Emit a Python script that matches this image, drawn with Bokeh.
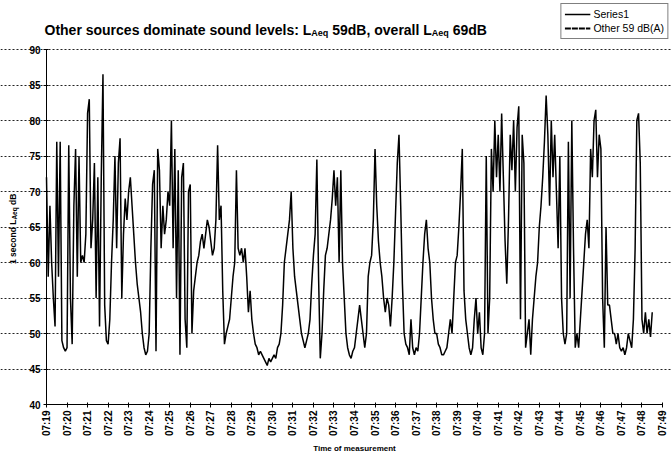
import math
from bokeh.plotting import figure
from bokeh.models import FixedTicker, Label, Legend, LegendItem, ColumnDataSource, LinearAxis
from bokeh.embed import file_html
from bokeh.resources import INLINE

# ---------------- data ----------------
tick_labels = ["07:19", "07:20", "07:21", "07:22", "07:23", "07:24", "07:25", "07:26",
               "07:27", "07:28", "07:29", "07:30", "07:31", "07:32", "07:33", "07:34",
               "07:35", "07:36", "07:37", "07:38", "07:39", "07:40", "07:41", "07:42",
               "07:43", "07:44", "07:45", "07:46", "07:47", "07:48", "07:49"]
y_ticks = [40, 45, 50, 55, 60, 65, 70, 75, 80, 85, 90]
sample_seconds = 5

series1 = [
    72, 58, 68, 60, 55, 51, 77, 58, 77, 49, 48, 47.5,
    48, 76.5, 55, 48.5, 68, 76, 58, 75, 60, 61, 60, 64,
    81, 83, 62, 66, 74, 55, 72, 51, 72, 86.5, 54, 49,
    48.5, 52, 60, 66, 75, 62, 74, 77.5, 55, 64, 69, 66,
    70, 72, 68, 64, 60, 57, 55, 53, 50, 48, 47, 47.5,
    50, 62, 71, 73, 47.5, 76, 73, 62, 68, 64, 66, 70,
    68, 80, 62, 76, 55, 73, 47, 72, 74, 52, 48, 70,
    71, 50, 56, 58, 60, 61, 63, 64, 62, 64, 66, 65,
    63, 61, 62, 66, 76.5, 66, 68, 56, 48.5, 50, 51, 52,
    55, 58, 60, 73, 62, 61, 62, 60, 62, 58, 53, 56,
    52, 50, 48.5, 48, 47, 47.5, 47, 46.5, 46, 45.5, 46.5, 46,
    46.5, 47, 46.5, 48, 48.5, 50, 54, 60, 62, 64, 66, 70,
    62, 58, 56, 54, 52, 50, 49, 48, 49, 50, 52, 57,
    61, 64, 74.5, 58, 46.5, 50, 56, 61, 62, 64, 66, 69,
    73, 68, 72, 60, 73, 60, 55, 50, 48, 47, 46.5, 47.5,
    48, 50, 52, 54, 52, 50, 48, 50, 58, 60, 61, 66,
    76, 68, 63, 60, 58, 55, 53, 55, 54, 51, 55, 60,
    67, 74, 78, 68, 57, 50, 48.5, 48, 47, 52, 48, 47,
    48, 47.5, 50, 55, 60, 64, 66, 62, 60, 55, 52, 50,
    50, 48.5, 48, 47, 47, 47.5, 48, 50, 52, 50, 55, 60,
    61, 65, 70, 76, 56, 52, 50, 48, 47, 48, 52, 55,
    50, 53, 48, 47, 50, 75, 50, 55, 76, 70, 80, 72,
    78, 70, 81, 72, 63, 57, 66, 78, 73, 80, 70, 79,
    82, 52, 78, 74, 48, 50, 52, 47, 52, 55, 58, 60,
    65, 68, 72, 77, 83.5, 78, 68, 80, 72, 78, 70, 62,
    75, 55, 50, 48.5, 50, 77, 55, 80, 62, 48, 50, 48,
    52, 56, 60, 64, 66, 62, 76, 72, 80, 81.5, 72, 78,
    76, 55, 48, 65, 54, 54, 52, 50, 50, 48.5, 50, 48,
    47.5, 48, 47, 48, 50, 49, 48, 52, 62, 80, 81, 74,
    52, 50, 53, 50, 52, 49.5, 53,
]
series1_label = "Series1"
other_label = "Other 59 dB(A)"
other_level = [59]   # single value: only its legend entry is visible in the chart

minutes = [i * sample_seconds / 60 for i in range(len(series1))]

# ---------------- layout geometry (pixels) ----------------
W_PX, H_PX = 671, 452
PLOT_L, PLOT_R, PLOT_T, PLOT_B = 46, 662, 49, 404
n_min = len(tick_labels) - 1
ppx = (PLOT_R - PLOT_L) / n_min                       # pixels per minute
ppy = (PLOT_B - PLOT_T) / (y_ticks[-1] - y_ticks[0])  # pixels per dB
x_range = (-PLOT_L / ppx, n_min + (W_PX - PLOT_R) / ppx)
y_range = (y_ticks[0] - (H_PX - PLOT_B) / ppy, y_ticks[-1] + PLOT_T / ppy)

FONT = "Liberation Sans"
p = figure(width=W_PX, height=H_PX, x_range=x_range, y_range=y_range,
           output_backend="svg", toolbar_location=None, x_axis_type=None, y_axis_type=None,
           min_border=0)
p.title.visible = False
p.outline_line_color = None
p.background_fill_color = "white"
p.border_fill_color = "white"

# dotted horizontal gridlines
p.hspan(y=y_ticks[1:], line_color="#222222", line_dash="2 2", line_width=1)

src = ColumnDataSource(dict(x=minutes, y=series1))
r1 = p.line("x", "y", source=src, line_color="black", line_width=1.5)
r2 = p.line(x=[0] * len(other_level), y=other_level, line_color="black", line_width=2.2,
            line_dash="6 1")

# axes (library axes pinned at the plot-area edges)
xax = LinearAxis(fixed_location=y_ticks[0], bounds=(0, n_min),
                 ticker=FixedTicker(ticks=list(range(len(tick_labels)))))
xax.major_label_overrides = {i: t for i, t in enumerate(tick_labels)}
xax.major_label_orientation = math.pi / 2
yax = LinearAxis(fixed_location=0, bounds=(y_ticks[0], y_ticks[-1]),
                 ticker=FixedTicker(ticks=y_ticks))
for ax in (xax, yax):
    ax.axis_line_color = "black"
    ax.axis_line_width = 1
    ax.major_tick_line_color = "black"
    ax.major_tick_in = 2
    ax.major_tick_out = 3
    ax.minor_tick_line_color = None
    ax.major_label_text_font = FONT
    ax.major_label_text_font_style = "bold"
    ax.major_label_text_font_size = "10px"
    ax.major_label_text_color = "black"
    ax.major_label_standoff = 3
p.add_layout(xax, "below")
p.add_layout(yax, "left")

# ---------------- text with subscripts ----------------
W = {' ': 278, ',': 278, ':': 333, '(': 333, ')': 333, 'A': 722, 'B': 722, 'L': 611, 'O': 778,
     'T': 611, 'a': 556, 'c': 556, 'd': 611, 'e': 556, 'f': 333, 'h': 611, 'i': 278, 'l': 278,
     'm': 889, 'n': 611, 'o': 611, 'q': 611, 'r': 389, 's': 556, 't': 333, 'u': 611, 'v': 556}
for dgt in "0123456789":
    W[dgt] = 556


def tw(s, size):
    return sum(W.get(c, 556) for c in s) * size / 1000.0


def rich(parts, ax, ay, x0, y0, angle=0.0):
    pos = 0.0
    for text, size, shift in parts:
        lead = len(text) - len(text.lstrip(" "))
        pos += lead * W[" "] * size / 1000.0
        core = text.strip(" ")
        if angle == 0:
            xo, yo = x0 + pos, y0 - shift
        else:
            xo, yo = x0 + shift, y0 + pos
        p.add_layout(Label(x=ax, y=ay, x_offset=xo, y_offset=yo, text=core, angle=angle,
                           text_font=FONT, text_font_style="bold", text_font_size=f"{size}px",
                           text_color="black", text_align="left", text_baseline="alphabetic"))
        pos += tw(text.lstrip(" "), size)


title_parts = [("Other sources dominate sound levels: L", 14, 0), ("Aeq", 9, 3),
               (" 59dB, overall L", 14, 0), ("Aeq", 9, 3), (" 69dB", 14, 0)]
rich(title_parts, 0, y_ticks[-1], -2, 20)

ylab_parts = [("1 second L", 8.5, 0), ("Aeq", 6.5, 2), (" dB", 8.5, 0)]
rich(ylab_parts, 0, (y_ticks[0] + y_ticks[-1]) / 2, -34, -37, angle=math.pi / 2)

xlab = "Time of measurement"
p.add_layout(Label(x=n_min / 2, y=y_ticks[0], x_offset=0, y_offset=-44, text=xlab,
                   text_font=FONT, text_font_style="bold", text_font_size="8px",
                   text_color="black", text_align="center", text_baseline="alphabetic"))

# ---------------- legend ----------------
legend = Legend(items=[LegendItem(label=series1_label, renderers=[r1]),
                       LegendItem(label=other_label, renderers=[r2], index=0)],
                location="top_right")
legend.border_line_color = "black"
legend.border_line_width = 1
legend.background_fill_color = "white"
legend.background_fill_alpha = 1
legend.padding = 3
legend.spacing = 0
legend.margin = 3
legend.glyph_width = 26
legend.glyph_height = 14
legend.label_height = 14
legend.label_standoff = 3
legend.label_text_font = FONT
legend.label_text_font_size = "10.5px"
legend.label_text_color = "black"
p.add_layout(legend, "center")

open("out.html", "w").write(file_html(p, INLINE))
